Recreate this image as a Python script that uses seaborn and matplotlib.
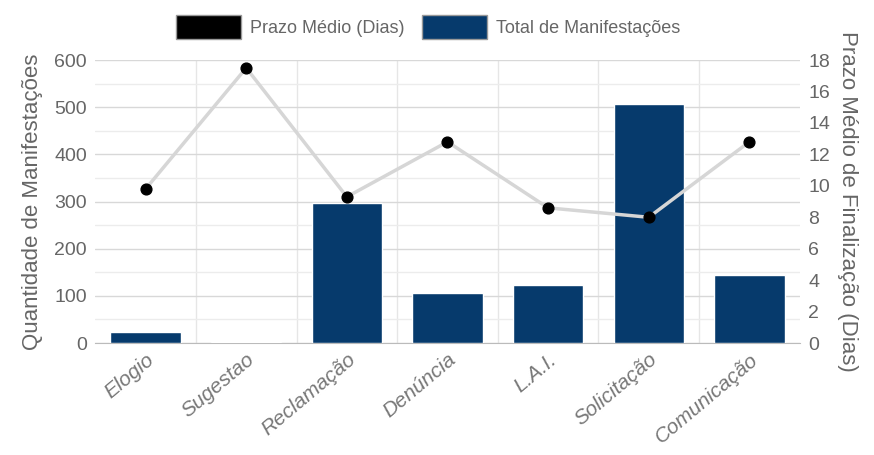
import matplotlib
matplotlib.use("Agg")
import matplotlib.pyplot as plt
import seaborn as sns
import pandas as pd
from matplotlib.patches import Patch
from matplotlib.ticker import MultipleLocator

categories = ["Elogio", "Sugestao", "Reclamação", "Denúncia", "L.A.I.", "Solicitação", "Comunicação"]
total_manifestacoes = [23, 3, 297, 106, 123, 507, 144]
prazo_medio = [9.8, 17.5, 9.3, 12.8, 8.6, 8.0, 12.8]

df = pd.DataFrame({"cat": categories, "total": total_manifestacoes, "prazo": prazo_medio})

sns.set_style("white")
plt.rcParams["font.family"] = ["Liberation Sans", "DejaVu Sans"]

navy = "#063a6c"
txt = "#666666"

fig = plt.figure(figsize=(8.74, 4.55), dpi=100)
ax = fig.add_axes([0.109, 0.246, 0.806, 0.622])

sns.barplot(data=df, x="cat", y="total", color=navy, width=0.7, saturation=1, ax=ax, zorder=3)
ax.set_ylim(0, 600)
ax.set_xlim(-0.5, 6.5)
ax.yaxis.set_major_locator(MultipleLocator(100))
ax.yaxis.set_minor_locator(MultipleLocator(50))
ax.grid(axis="y", which="major", color="#d8d8d8", lw=1, zorder=0)
ax.grid(axis="y", which="minor", color="#ececec", lw=1, zorder=0)
for xb in [0.5, 1.5, 2.5, 3.5, 4.5, 5.5]:
    ax.axvline(xb, color="#e6e6e6", lw=1, zorder=0)
for s in ["top", "left", "right"]:
    ax.spines[s].set_visible(False)
ax.spines["bottom"].set_color("#bbbbbb")
ax.tick_params(axis="y", which="both", length=0, labelsize=14, labelcolor=txt, pad=6)
ax.tick_params(axis="x", length=0, labelsize=15, labelcolor="#777777", pad=5)
ax.set_xlabel("")
ax.set_ylabel("Quantidade de Manifestações", fontsize=16, color=txt, labelpad=8)
for lab in ax.get_xticklabels():
    lab.set_rotation(40)
    lab.set_ha("right")
    lab.set_rotation_mode("anchor")
    lab.set_style("italic")

ax2 = ax.twinx()
sns.lineplot(data=df, x="cat", y="prazo", ax=ax2, color="#d6d6d6", lw=2.5, sort=False, zorder=4)
ax2.scatter(range(len(categories)), prazo_medio, s=60, color="black", zorder=5)
ax2.set_ylim(0, 18)
ax2.set_xlim(-0.5, 6.5)
ax2.yaxis.set_major_locator(MultipleLocator(2))
for s in ["top", "left", "right", "bottom"]:
    ax2.spines[s].set_visible(False)
ax2.tick_params(axis="y", length=0, labelsize=14, labelcolor=txt, pad=6)
ax2.set_ylabel("Prazo Médio de Finalização (Dias)", fontsize=16, color=txt, rotation=270, labelpad=20)
ax2.set_xlabel("")

handles = [Patch(facecolor="black", edgecolor="#999999"), Patch(facecolor=navy, edgecolor="#999999")]
fig.legend(handles, ["Prazo Médio (Dias)", "Total de Manifestações"], loc="center", bbox_to_anchor=(0.49, 0.94),
           ncol=2, frameon=False, fontsize=13, labelcolor=txt, handlelength=3.6, handleheight=1.7,
           columnspacing=1.0, handletextpad=0.5)

fig.savefig("out.png", dpi=100)
